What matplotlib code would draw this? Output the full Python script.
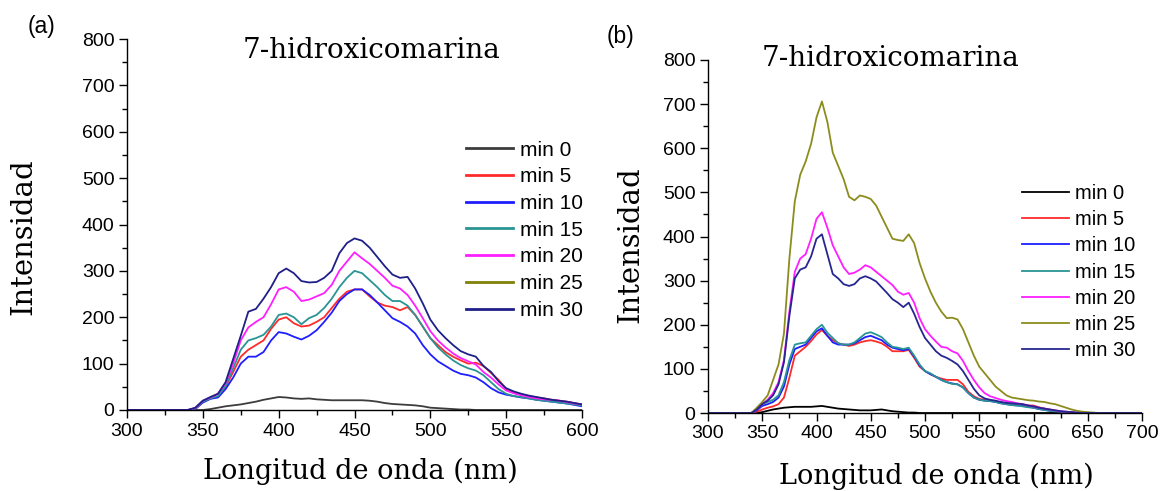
import matplotlib
matplotlib.use("Agg")
import matplotlib.pyplot as plt
from matplotlib.ticker import MultipleLocator

# ---- data ----
labels = ["min 0", "min 5", "min 10", "min 15", "min 20", "min 25", "min 30"]

# panel (a)
wl_a = [300, 340, 345, 350, 355, 360, 365, 370, 375, 380,
        385, 390, 395, 400, 405, 410, 415, 420, 425, 430,
        435, 440, 445, 450, 455, 460, 465, 470, 475, 480,
        485, 490, 495, 500, 505, 510, 515, 520, 525, 530,
        535, 540, 545, 550, 555, 560, 565, 570, 575, 580,
        585, 590, 595, 600]
a_min0 = [0, 0, 0, 0, 2, 5, 8, 10, 12, 15,
          18, 22, 25, 28, 27, 25, 24, 25, 23, 22,
          21, 21, 21, 21, 21, 20, 18, 15, 13, 12,
          11, 10, 8, 5, 4, 3, 2, 1, 1, 0,
          0, 0, 0, 0, 0, 0, 0, 0, 0, 0,
          0, 0, 0, 0]
a_min5 = [0, 0, 2, 18, 25, 28, 50, 82, 115, 130,
          140, 150, 175, 195, 200, 187, 180, 182, 190, 200,
          220, 240, 255, 260, 260, 245, 232, 225, 222, 215,
          222, 205, 180, 155, 140, 125, 115, 107, 100, 102,
          95, 80, 65, 45, 37, 32, 30, 27, 25, 22,
          20, 18, 15, 12]
a_min10 = [0, 0, 2, 16, 24, 27, 45, 70, 100, 115,
           115, 125, 150, 168, 165, 158, 152, 160, 172, 190,
           210, 235, 250, 260, 260, 248, 232, 215, 198, 190,
           180, 165, 140, 120, 105, 95, 85, 78, 75, 70,
           60, 47, 38, 33, 30, 27, 25, 22, 20, 18,
           16, 14, 11, 8]
a_min15 = [0, 0, 3, 18, 25, 30, 52, 90, 130, 150,
           155, 162, 180, 205, 208, 200, 185, 198, 205, 220,
           240, 265, 285, 300, 295, 280, 265, 248, 235, 235,
           225, 205, 180, 155, 135, 120, 107, 97, 90, 85,
           75, 60, 45, 35, 30, 28, 25, 22, 20, 18,
           16, 14, 12, 10]
a_min20 = [0, 0, 4, 20, 27, 35, 58, 100, 150, 178,
           190, 200, 228, 260, 265, 255, 235, 238, 245, 252,
           270, 300, 320, 340, 327, 315, 300, 285, 268, 262,
           248, 225, 198, 170, 150, 135, 122, 112, 105, 98,
           82, 70, 55, 42, 36, 32, 28, 25, 23, 22,
           20, 17, 14, 12]
a_min25 = []  # listed in the legend, no visible curve
a_min30 = [0, 0, 5, 20, 28, 35, 60, 110, 160, 212,
           218, 240, 265, 295, 305, 295, 278, 275, 276, 285,
           300, 338, 360, 370, 365, 350, 330, 310, 292, 285,
           287, 262, 230, 195, 172, 155, 140, 127, 120, 115,
           95, 82, 62, 47, 40, 35, 31, 28, 25, 22,
           20, 18, 15, 12]

# panel (b)
wl_b = [300, 340, 345, 350, 355, 360, 365, 370, 375, 380,
        385, 390, 395, 400, 405, 410, 415, 420, 425, 430,
        435, 440, 445, 450, 455, 460, 465, 470, 475, 480,
        485, 490, 495, 500, 505, 510, 515, 520, 525, 530,
        535, 540, 545, 550, 555, 560, 565, 570, 575, 580,
        585, 590, 595, 600, 605, 610, 615, 620, 625, 630,
        635, 640, 645, 650, 655, 660, 700]
b_min0 = [0, 0, 0, 2, 5, 8, 10, 12, 13, 14,
          14, 14, 14, 15, 16, 14, 12, 10, 9, 8,
          7, 6, 6, 6, 7, 8, 6, 4, 3, 2,
          1, 1, 0, 0, 0, 0, 0, 0, 0, 0,
          0, 0, 0, 0, 0, 0, 0, 0, 0, 0,
          0, 0, 0, 0, 0, 0, 0, 0, 0, 0,
          0, 0, 0, 0, 0, 0, 0]
b_min5 = [0, 0, 3, 8, 12, 15, 20, 35, 80, 130,
          140, 150, 163, 178, 188, 175, 165, 158, 155, 152,
          155, 160, 163, 165, 162, 158, 150, 140, 140, 140,
          143, 125, 105, 95, 88, 82, 78, 75, 75, 75,
          65, 48, 38, 32, 30, 28, 26, 24, 22, 20,
          19, 18, 17, 17, 13, 10, 7, 5, 3, 2,
          1, 0, 0, 0, 0, 0, 0]
b_min10 = [0, 0, 6, 16, 20, 25, 35, 60, 110, 145,
           150, 155, 170, 185, 192, 175, 160, 155, 155, 155,
           158, 165, 172, 175, 170, 165, 155, 148, 145, 142,
           145, 128, 108, 95, 88, 82, 75, 70, 67, 65,
           58, 45, 35, 30, 28, 27, 25, 22, 20, 18,
           17, 16, 14, 12, 9, 7, 5, 4, 3, 2,
           1, 0, 0, 0, 0, 0, 0]
b_min15 = [0, 0, 8, 20, 25, 30, 40, 70, 120, 155,
           158, 160, 175, 190, 200, 182, 170, 158, 155, 155,
           160, 170, 180, 183, 178, 172, 160, 150, 148, 145,
           148, 130, 110, 95, 90, 82, 75, 70, 66, 65,
           58, 45, 35, 30, 28, 27, 25, 22, 20, 18,
           17, 15, 13, 12, 9, 7, 5, 4, 3, 2,
           1, 0, 0, 0, 0, 0, 0]
b_min20 = [0, 0, 8, 20, 30, 45, 70, 120, 230, 320,
           350, 360, 395, 440, 455, 420, 380, 355, 330, 315,
           318, 325, 335, 330, 320, 310, 300, 290, 275, 268,
           272, 250, 215, 190, 175, 162, 150, 148, 140, 135,
           118, 95, 75, 58, 45, 38, 34, 30, 27, 25,
           22, 20, 17, 15, 12, 10, 8, 6, 4, 3,
           2, 1, 0, 0, 0, 0, 0]
b_min25 = [0, 0, 12, 25, 40, 75, 110, 180, 350, 480,
           540, 570, 610, 670, 706, 660, 590, 560, 530, 490,
           482, 493, 490, 485, 470, 445, 420, 395, 392, 390,
           405, 385, 340, 305, 275, 250, 230, 215, 216, 212,
           190, 160, 130, 105, 90, 75, 60, 50, 40, 35,
           33, 31, 29, 28, 26, 25, 22, 20, 16, 12,
           8, 5, 3, 2, 1, 0, 0]
b_min30 = [0, 0, 8, 20, 28, 40, 65, 115, 220, 305,
           325, 330, 355, 395, 405, 360, 315, 305, 292, 288,
           292, 305, 310, 305, 298, 285, 272, 258, 250, 240,
           250, 225, 195, 170, 155, 140, 130, 125, 118, 110,
           95, 75, 55, 40, 33, 30, 28, 25, 23, 22,
           21, 20, 17, 15, 12, 10, 8, 6, 4, 3,
           2, 1, 0, 0, 0, 0, 0]

colors_a = ["#3c3c3c", "#ff2a2a", "#1e1eff", "#2a9494", "#ff1eff", "#80800a", "#1f1f88"]
colors_b = ["#000000", "#ff2a2a", "#1e1eff", "#2a9494", "#ff1eff", "#8c8c1e", "#262690"]

series_a = [a_min0, a_min5, a_min10, a_min15, a_min20, a_min25, a_min30]
series_b = [b_min0, b_min5, b_min10, b_min15, b_min20, b_min25, b_min30]

plt.rcParams['font.family'] = ['Liberation Sans', 'DejaVu Sans']
serif = ['DejaVu Serif']

W, H = 1161, 491
fig = plt.figure(figsize=(W / 100, H / 100), dpi=100)
ax_a = fig.add_axes([127/W, 81/H, 455/W, 371/H])
ax_b = fig.add_axes([708/W, 78/H, 434/W, 353/H])


def style(ax, xmax):
    ax.set_xlim(300, xmax)
    ax.set_ylim(0, 800)
    ax.spines['top'].set_visible(False)
    ax.spines['right'].set_visible(False)
    ax.xaxis.set_major_locator(MultipleLocator(50))
    ax.xaxis.set_minor_locator(MultipleLocator(25))
    ax.yaxis.set_major_locator(MultipleLocator(100))
    ax.yaxis.set_minor_locator(MultipleLocator(50))
    ax.tick_params(which='major', direction='out', length=6, width=1, labelsize=14, pad=3)
    ax.tick_params(which='minor', direction='out', length=3.5, width=1)
    for s in ax.spines.values():
        s.set_linewidth(1)


for name, ys, c in zip(labels, series_a, colors_a):
    if ys:
        ax_a.plot(wl_a, ys, color=c, lw=1.3, label=name)
    else:
        ax_a.plot([], [], color=c, lw=1.3, label=name)
style(ax_a, 600)
leg_a = ax_a.legend(loc='upper left', bbox_to_anchor=(0.745, 0.726), frameon=False,
                    fontsize=15, handlelength=2.25, handletextpad=0.34, labelspacing=0.37,
                    borderpad=0, borderaxespad=0)
for h in leg_a.legend_handles:
    h.set_linewidth(2.0)

for name, ys, c in zip(labels, series_b, colors_b):
    ax_b.plot(wl_b, ys, color=c, lw=1.3, label=name)
style(ax_b, 700)
ax_b.legend(loc='upper left', bbox_to_anchor=(0.7235, 0.649), frameon=False,
            fontsize=14.5, handlelength=2.33, handletextpad=0.3, labelspacing=0.36,
            borderpad=0, borderaxespad=0)

# titles, labels, panel letters
fig.text(371/W, 1 - 50/H, "7-hidroxicomarina", family=serif, fontsize=20,
         ha='center', va='center')
fig.text(890/W, 1 - 58/H, "7-hidroxicomarina", family=serif, fontsize=20,
         ha='center', va='center')
fig.text(360/W, 1 - 471/H, "Longitud de onda (nm)", family=serif, fontsize=19.5,
         ha='center', va='center')
fig.text(936/W, 1 - 476/H, "Longitud de onda (nm)", family=serif, fontsize=19.5,
         ha='center', va='center')
fig.text(23/W, 1 - 237/H, "Intensidad", family=serif, fontsize=21,
         ha='center', va='center', rotation=90)
fig.text(630/W, 1 - 245/H, "Intensidad", family=serif, fontsize=21,
         ha='center', va='center', rotation=90)
fig.text(41/W, 1 - 27/H, "(a)", fontsize=16.5, ha='center', va='center')
fig.text(621/W, 1 - 37/H, "(b)", fontsize=16.5, ha='center', va='center')

fig.savefig("out.png", dpi=100)
